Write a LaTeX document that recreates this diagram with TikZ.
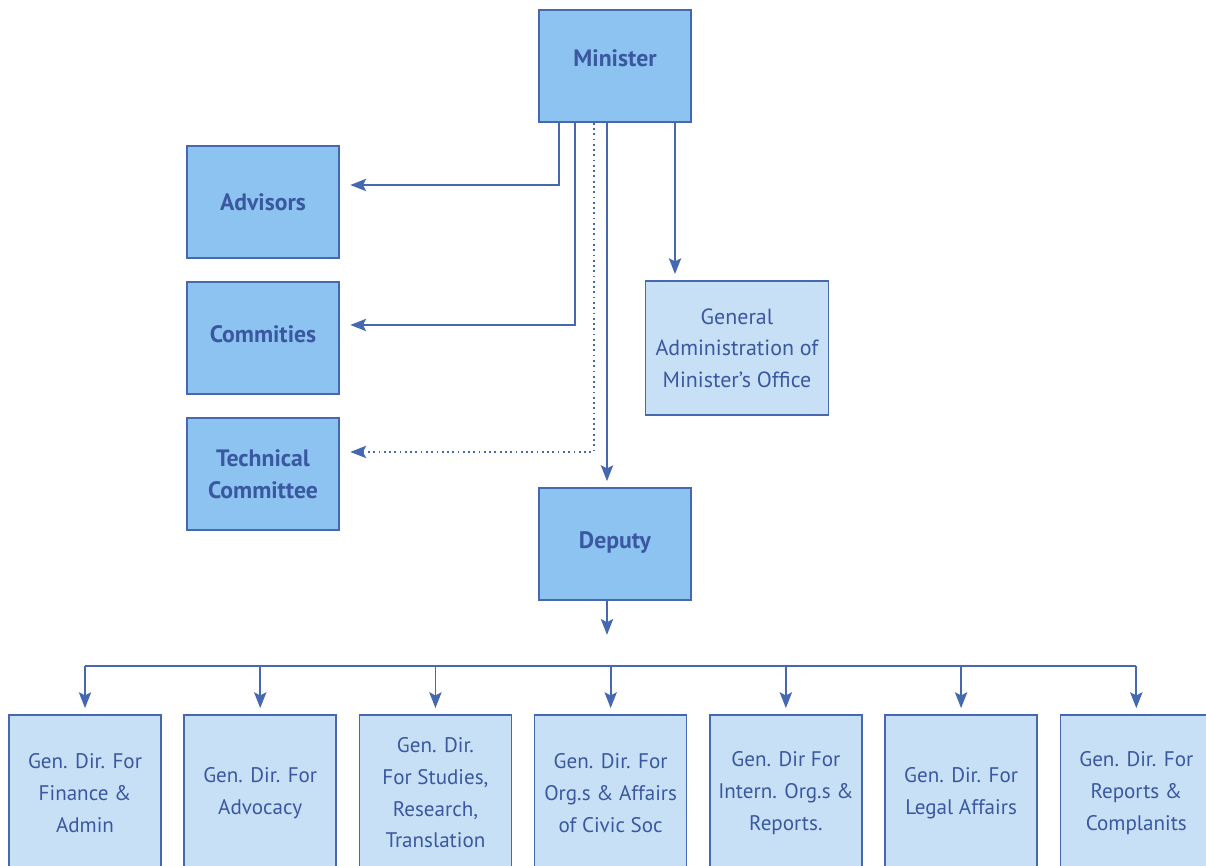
\documentclass[tikz,border=0pt]{standalone}
\usepackage{fontspec}
\setmainfont{PT Sans}
\usetikzlibrary{arrows,arrows.meta}

\definecolor{boxline}{RGB}{70,104,176}
\definecolor{boxtext}{RGB}{58,88,160}
\definecolor{darkfill}{RGB}{141,195,240}
\definecolor{lightfill}{RGB}{200,224,246}

\begin{document}
\begin{tikzpicture}[x=0.02cm,y=-0.02cm,>={Stealth[length=9pt,width=7pt,inset=1.8pt]},
                    line width=1pt,
                    main box/.style={rectangle,draw=boxline,fill=darkfill,line width=0.9pt,
                      minimum width=3.04cm,minimum height=2.24cm,align=center,
                      text=boxtext,font=\fontsize{13.5}{18}\selectfont\bfseries},
                    office box/.style={main box,fill=lightfill,minimum width=3.66cm,
                      minimum height=2.68cm,font=\fontsize{12.5}{18}\selectfont},
                    dir box/.style={main box,fill=lightfill,minimum height=3.12cm,
                      font=\fontsize{12}{18}\selectfont},
                    link/.style={draw=boxline,line width=1pt},
                    arrow link/.style={link,->,shorten >=3.5pt}]
  \useasboundingbox (0,0) rectangle (1206,865);
  \clip (0,0) rectangle (1206,865);
  \node[main box] (minister) at (615,66) {\raisebox{9pt}{Minister}};
  \node[main box] (advisors) at (263,202) {Advisors};
  \node[main box,node distance=2.72cm] (commities) [below of=advisors] {\raisebox{5pt}{Commities}};
  \node[main box,node distance=2.72cm] (technical) [below of=commities] {Technical\\Committee};
  \node[office box] (office) at (737,348) {General\\Administration of\\Minister’s Office};
  \node[main box] (deputy) at (615,544) {\raisebox{4pt}{Deputy}};
  \node[dir box] (finance) at (85,793) {Gen. Dir. For\\Finance \&\\Admin};
  \node[dir box,node distance=3.505cm] (advocacy) [right of=finance] {Gen. Dir. For\\Advocacy};
  \node[dir box,node distance=3.505cm] (studies)  [right of=advocacy] {Gen. Dir.\\For Studies,\\Research,\\Translation};
  \node[dir box,node distance=3.505cm] (civic)    [right of=studies] {Gen. Dir. For\\Org.s \& Affairs\\of Civic Soc};
  \node[dir box,node distance=3.505cm] (intern)   [right of=civic] {Gen. Dir For\\Intern. Org.s \&\\Reports.};
  \node[dir box,node distance=3.505cm] (legal)    [right of=intern] {Gen. Dir. For\\Legal Affairs};
  \node[dir box,node distance=3.505cm] (reports)  [right of=legal] {Gen. Dir. For\\Reports \&\\Complanits};
  \coordinate (deputy end) at (607,641);
  \coordinate (bus) at (607,666);
  % minister to the staff on the left
  \draw[arrow link,shorten >=6pt] ([xshift=-1.12cm]minister.south) |- ([yshift=0.34cm]advisors.east);
  \draw[arrow link,shorten >=6pt] ([xshift=-0.8cm]minister.south) |- ([yshift=0.26cm]commities.east);
  \draw[arrow link,dotted,shorten >=6pt] ([xshift=-0.42cm]minister.south) |- ([yshift=0.44cm]technical.east);
  \path[link]
    ([xshift=-0.16cm]minister.south) edge [arrow link] ([xshift=-0.16cm]deputy.north)
    ([xshift=1.2cm]minister.south) edge [arrow link] ([xshift=-1.24cm]office.north)
    ([xshift=-0.16cm]deputy.south) edge [arrow link] (deputy end);
  \draw[link] (bus -| finance) -- (bus -| reports);
  \foreach \dir in {finance,advocacy,studies,civic,intern,legal,reports}
    \draw[arrow link] (bus -| \dir) -- (\dir.north);
\end{tikzpicture}
\end{document}
